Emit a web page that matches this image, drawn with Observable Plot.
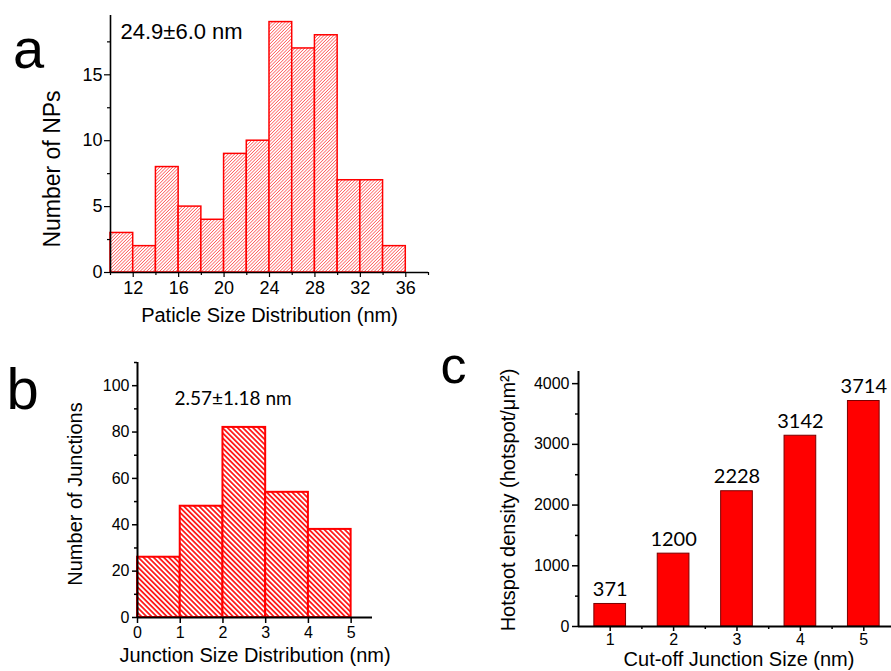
<!DOCTYPE html>
<html><head><meta charset="utf-8">
<script src="https://cdn.jsdelivr.net/npm/d3@7"></script>
<script src="https://cdn.jsdelivr.net/npm/@observablehq/plot@0.6"></script>
<style>
html,body{margin:0;padding:0;background:#fff;}
#fig{position:relative;width:891px;height:671px;overflow:hidden;background:#fff;}
#fig svg{position:absolute;overflow:visible;}
</style></head>
<body><div id="fig"></div>
<script>
// ---------- Panel a : particle size histogram ----------
const aBinEdges = [10,12,14,16,18,20,22,24,26,28,30,32,34,36];
const aCounts   = [3,2,8,5,4,9,10,19,17,18,7,7,2];
const aXTicks   = [12,16,20,24,28,32,36];
const aXMinor   = [10,14,18,22,26,30,34,38];
const aYTicks   = [0,5,10,15];
const aYMinor   = [2.5,7.5,12.5,17.5];
const aNote     = "24.9±6.0 nm";
const aXTitle   = "Paticle Size Distribution (nm)";
const aYTitle   = "Number of NPs";

// ---------- Panel b : junction size histogram ----------
const bBinEdges = [0,1,2,3,4,5];
const bCounts   = [26,48,82,54,38];
const bXTicks   = [0,1,2,3,4,5];
const bYTicks   = [0,20,40,60,80,100];
const bYMinor   = [10,30,50,70,90,110];
const bNote     = "2.57±1.18 nm";
const bXTitle   = "Junction Size Distribution (nm)";
const bYTitle   = "Number of Junctions";

// ---------- Panel c : hotspot density ----------
const cCutoffs  = [1,2,3,4,5];
const cDensity  = [371,1200,2228,3142,3714];
const cYTicks   = [0,1000,2000,3000,4000];
const cYMinor   = [500,1500,2500,3500];
const cXMinor   = [1.5,2.5,3.5,4.5];
const cXTitle   = "Cut-off Junction Size (nm)";
const cYTitle   = "Hotspot density (hotspot/μm²)";

const FONT = "Liberation Sans, Arial, sans-serif";
const CAL = "Lato, Open Sans, sans-serif";
const RED = "#ff0000";
const fig = document.getElementById("fig");

function hatch(svg, id, angle, spacing, color, width) {
  const defs = d3.select(svg).insert("defs", ":first-child");
  const p = defs.append("pattern").attr("id", id)
    .attr("patternUnits", "userSpaceOnUse")
    .attr("width", spacing).attr("height", spacing)
    .attr("patternTransform", `rotate(${angle})`);
  p.append("rect").attr("width", spacing).attr("height", spacing).attr("fill", "#fff");
  p.append("line").attr("x1", spacing/2).attr("y1", -1).attr("x2", spacing/2).attr("y2", spacing+1)
    .attr("stroke", color).attr("stroke-width", width);
}
function place(svg, left, top) {
  svg.style.left = left + "px"; svg.style.top = top + "px";
  fig.appendChild(svg);
}
const blank = () => "";
const plain = d => String(d);

// ---------- Panel a ----------
const aRows = aCounts.map((n, i) => ({x1: aBinEdges[i], x2: aBinEdges[i+1], n}));
const svgA = Plot.plot({
  width: 440, height: 335,
  marginLeft: 110, marginRight: 12, marginTop: 15, marginBottom: 63,
  x: {domain: [10, 38]},
  y: {domain: [0, 19.5]},
  style: {fontFamily: FONT, fontSize: "18px", color: "#000", background: "transparent"},
  marks: [
    Plot.rectY(aRows, {x1: "x1", x2: "x2", y: "n", fill: "url(#hatchA)", stroke: RED, strokeWidth: 1.5}),
    Plot.axisY(aYTicks, {tickSize: 6, tickPadding: 2, fontSize: 18, label: null, strokeWidth: 1.2, tickFormat: plain}),
    Plot.axisY(aYMinor, {tickSize: 3, tickFormat: blank, label: null, strokeWidth: 1.2}),
    Plot.axisX(aXTicks, {tickSize: 5, tickPadding: 4, fontSize: 18, label: null, strokeWidth: 1.2, tickFormat: plain}),
    Plot.axisX(aXMinor, {tickSize: 3, tickFormat: blank, label: null, strokeWidth: 1.2}),
    Plot.ruleY([0], {strokeWidth: 1.6}),
    Plot.ruleX([10], {strokeWidth: 1.6}),
    Plot.text([aNote], {frameAnchor: "top-left", textAnchor: "start", lineAnchor: "middle", dx: 10, dy: 16, fontSize: 22}),
    Plot.text([aXTitle], {frameAnchor: "bottom", textAnchor: "middle", lineAnchor: "middle", dy: 43, fontSize: 20}),
    Plot.text([aYTitle], {frameAnchor: "left", textAnchor: "middle", lineAnchor: "middle", rotate: -90, dx: -58, dy: 25, fontSize: 23}),
    Plot.text(["a"], {frameAnchor: "top-left", textAnchor: "middle", lineAnchor: "middle", dx: -82, dy: 35, fontSize: 56})
  ]
});
hatch(svgA, "hatchA", 45, 2.3, "#ff4d4d", 0.7);
place(svgA, 0, 0);

// ---------- Panel b ----------
const bRows = bCounts.map((n, i) => ({x1: bBinEdges[i], x2: bBinEdges[i+1], n}));
const svgB = Plot.plot({
  width: 420, height: 341,
  marginLeft: 137, marginRight: 48, marginTop: 32, marginBottom: 54,
  x: {domain: [0, 5.5]},
  y: {domain: [0, 110]},
  style: {fontFamily: FONT, fontSize: "16px", color: "#000", background: "transparent"},
  marks: [
    Plot.rectY(bRows, {x1: "x1", x2: "x2", y: "n", fill: "url(#hatchB)", stroke: RED, strokeWidth: 2}),
    Plot.axisY(bYTicks, {tickSize: 5, tickPadding: 3, fontSize: 16, label: null, strokeWidth: 1.5, tickFormat: plain}),
    Plot.axisY(bYMinor, {tickSize: 3, tickFormat: blank, label: null, strokeWidth: 1.5}),
    Plot.axisX(bXTicks, {tickSize: 6, tickPadding: 3, fontSize: 16, label: null, strokeWidth: 1.5, tickFormat: plain}),
    Plot.ruleY([0], {strokeWidth: 2}),
    Plot.ruleX([0], {strokeWidth: 2}),
    Plot.text([bNote], {frameAnchor: "top-left", textAnchor: "start", lineAnchor: "middle", dx: 37, dy: 36, fontSize: 19, fontFamily: CAL}),
    Plot.text([bXTitle], {frameAnchor: "bottom", textAnchor: "middle", lineAnchor: "middle", dy: 38, fontSize: 20}),
    Plot.text([bYTitle], {frameAnchor: "left", textAnchor: "middle", lineAnchor: "middle", rotate: -90, dx: -62, dy: 4, fontSize: 20}),
    Plot.text(["b"], {frameAnchor: "top-left", textAnchor: "middle", lineAnchor: "middle", dx: -115, dy: 28, fontSize: 58})
  ]
});
hatch(svgB, "hatchB", -45, 3.6, RED, 1.6);
place(svgB, 0, 330);

// ---------- Panel c ----------
const barHalf = 0.25;
const cRows = cCutoffs.map((c, i) => ({c, v: cDensity[i]}));
const svgC = Plot.plot({
  width: 461, height: 341,
  marginLeft: 148, marginRight: 0, marginTop: 41, marginBottom: 45,
  x: {domain: [0.5, 5.437]},
  y: {domain: [0, 4200]},
  style: {fontFamily: FONT, fontSize: "16px", color: "#000", background: "transparent"},
  marks: [
    Plot.rectY(cRows, {x1: d => d.c - barHalf, x2: d => d.c + barHalf, y: "v", fill: RED, stroke: "#7a0000", strokeWidth: 1}),
    Plot.axisY(cYTicks, {tickSize: 6, tickPadding: 3, fontSize: 16, label: null, strokeWidth: 1.5, tickFormat: plain}),
    Plot.axisY(cYMinor, {tickSize: 3, tickFormat: blank, label: null, strokeWidth: 1.5}),
    Plot.axisX(cCutoffs, {tickSize: 5, tickPadding: 2, fontSize: 16, label: null, strokeWidth: 1.5, tickFormat: plain}),
    Plot.axisX(cXMinor, {tickSize: 3, tickFormat: blank, label: null, strokeWidth: 1.5}),
    Plot.ruleY([0], {strokeWidth: 2}),
    Plot.ruleX([0.5], {strokeWidth: 2}),
    Plot.text(cRows, {x: "c", y: "v", text: d => String(d.v), lineAnchor: "bottom", dy: -8, fontSize: 20, fontFamily: CAL}),
    Plot.text([cXTitle], {frameAnchor: "bottom", textAnchor: "middle", lineAnchor: "middle", dx: 4, dy: 33, fontSize: 20}),
    Plot.text([cYTitle], {frameAnchor: "left", textAnchor: "middle", lineAnchor: "middle", rotate: -90, dx: -70, dy: 1, fontSize: 20}),
    Plot.text(["c"], {frameAnchor: "top-left", textAnchor: "middle", lineAnchor: "middle", dx: -125, dy: -5, fontSize: 52})
  ]
});
place(svgC, 430, 330);
</script>
</body></html>
